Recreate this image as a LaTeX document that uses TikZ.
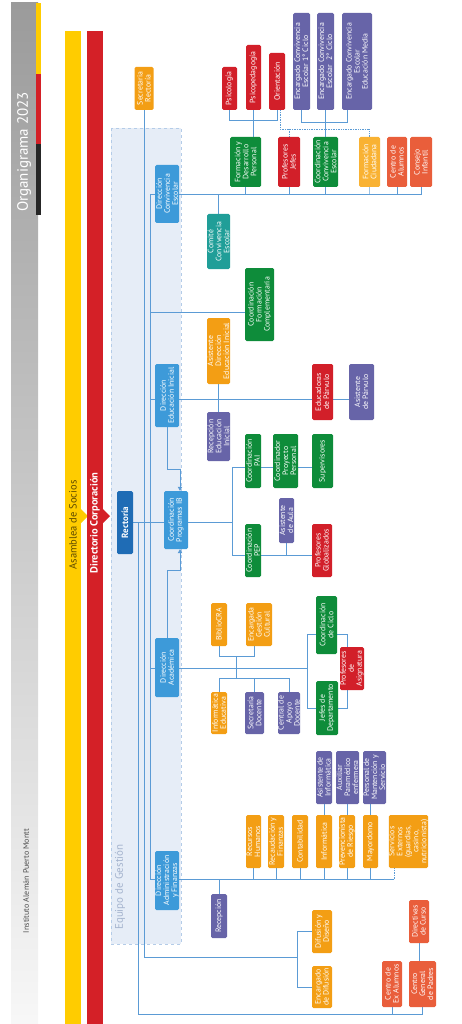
\documentclass[tikz,border=0pt]{standalone}
\usepackage{fontspec}
\setmainfont{PT Sans}
\usepackage{tikz}
\usetikzlibrary{arrows.meta,calc}
\definecolor{dirblue}{RGB}{61,154,217}
\definecolor{rectblue}{RGB}{31,108,181}
\definecolor{orgn}{RGB}{243,158,20}
\definecolor{rojo}{RGB}{210,31,41}
\definecolor{lila}{RGB}{103,100,168}
\definecolor{verde}{RGB}{14,140,58}
\definecolor{teal}{RGB}{32,158,152}
\definecolor{coral}{RGB}{233,94,59}
\definecolor{amber}{RGB}{249,178,51}
\definecolor{linkblue}{RGB}{91,155,213}
\definecolor{eqfill}{RGB}{230,237,247}
\definecolor{eqdraw}{RGB}{180,204,232}
\definecolor{eqtext}{RGB}{165,180,206}
\definecolor{asam}{RGB}{255,204,0}
\definecolor{direc}{RGB}{212,32,39}
\definecolor{hgray}{RGB}{155,155,155}
\pgfdeclarelayer{bg}
\pgfdeclarelayer{lines}
\pgfsetlayers{bg,lines,main}

\begin{document}
\begin{tikzpicture}[
  x=1pt, y=-1pt,
  font=\fontsize{7.8}{8}\selectfont,
  box/.style={rotate=90, rounded corners=1.5pt, align=center, inner sep=0pt, text=white},
  wh/.style 2 args={minimum height=#1pt, minimum width=#2pt},
  dirb/.style={box, fill=dirblue},
  orb/.style={box, fill=orgn},
  rob/.style={box, fill=rojo},
  lib/.style={box, fill=lila},
  veb/.style={box, fill=verde},
  teb/.style={box, fill=teal},
  cob/.style={box, fill=coral},
  amb/.style={box, fill=amber},
  conn/.style={draw=linkblue, line width=0.7pt},
  connl/.style={draw=linkblue!60, line width=1.6pt},
  dot/.style={conn, densely dotted},
  arr/.style={conn, -{Triangle[length=4pt,width=4.5pt]}},
  bartext/.style={rotate=90, font=\fontsize{10.5}{12}\selectfont},
]
\useasboundingbox (0,0) rectangle (461,1024);
% ---- header and governing bars ----
\begin{pgfonlayer}{bg}
\shade[top color=hgray, bottom color=white!97!black] (11,3) rectangle (38,1024);
\fill[asam] (36,3) rectangle (41,74);
\fill[direc] (36,74) rectangle (41,144);
\fill[black!85] (36,144) rectangle (41,215);
\fill[asam] (65,31) rectangle (81,1024);
\fill[asam] (81,509) -- (88,516) -- (81,523) -- cycle;
\fill[direc] (87,31) rectangle (103,1024);
\fill[direc] (103,509) -- (110,516) -- (103,523) -- cycle;
\draw[fill=eqfill, draw=eqdraw, dashed, line width=0.7pt] (111,128) rectangle (181,944);
\end{pgfonlayer}
\node[rotate=90, text=white, font=\fontsize{15}{17}\selectfont] (ttl) at (24,152) {Organigrama 2023};
\node[rotate=90, text=black!70, font=\fontsize{8}{9}\selectfont] (inst) at (26,881) {Instituto Alemán Puerto Montt};
\node[bartext, text=black!55!asam!80!black] (asl) at (73,525) {Asamblea de Socios};
\node[bartext, text=white, font=\fontsize{10.5}{12}\selectfont\bfseries] (dcl) at (95,523) {Directorio Corporación};
\node[rotate=90, text=eqtext, font=\fontsize{11}{12}\selectfont] (eql) at (120,887) {Equipo de Gestión};
% ---- rectoría and direcciones ----
\node[box, fill=rectblue, wh={16}{63}, font=\fontsize{9}{10}\selectfont\bfseries] (rect) at (125,522.5) {Rectoría};
\node[orb, wh={19}{43}] (secr) at (144,88.5) {Secretaria\\Rectoría};
\node[dirb, wh={24}{58}] (dce) at (167,194) {Dirección\\Convivencia\\Escolar};
\node[dirb, wh={24}{63}] (dei) at (167,395.5) {Dirección\\Educación Inicial};
\node[dirb, wh={24}{58}] (cib) at (176,520) {Coordinación\\Programas IB};
\node[dirb, wh={24}{59}] (dac) at (167,667.5) {Dirección\\Académica};
\node[dirb, wh={24}{59}] (daf) at (167,880.5) {Dirección\\Administración\\y Finanzas};
% ---- convivencia escolar ----
\node[teb, wh={23}{55}] (com) at (218.5,241.5) {Comité\\Convivencia\\Escolar};
\node[veb, wh={31}{50}] (fdp) at (245.5,162) {Formación y\\Desarrollo\\Personal};
\node[rob, wh={22}{50}] (pjef) at (289,162) {Profesores\\Jefes};
\node[veb, wh={25}{50}] (ccon) at (325.5,162) {Coordinación\\Convivencia\\Escolar};
\node[amb, wh={21}{50}] (fciu) at (369.5,162) {Formación\\Ciudadana};
\node[cob, wh={20}{50}] (calu) at (397,162) {Centro de\\Alumnos};
\node[cob, wh={22}{50}] (cinf) at (421,162) {Consejo\\Infantil};
\node[rob, wh={15}{43}] (psi) at (229.5,88.5) {Psicología};
\node[rob, wh={15}{65}] (psp) at (253.5,77.5) {Psicopedagogía};
\node[rob, wh={16}{57}] (ori) at (277,81.5) {Orientación};
\node[lib, wh={17}{97}] (ecc1) at (301.5,61.5) {Encargado Convivencia\\Escolar 1° Ciclo};
\node[lib, wh={17}{97}] (ecc2) at (325.5,61.5) {Encargado Convivencia\\Escolar\ \ 2° Ciclo};
\node[lib, wh={30}{97}] (eccm) at (357,61.5) {Encargado Convivencia\\Escolar\\Educación Media};
% ---- educación inicial ----
\node[veb, wh={29}{73}] (cfc) at (259.5,304.5) {Coordinación\\Formación\\Complementaria};
\node[orb, wh={23}{66}] (asdei) at (218.5,351) {Asistente\\Dirección\\Educación Inicial};
\node[lib, wh={23}{49}] (recei) at (218.5,436.5) {Recepción\\Educación\\Inicial};
\node[rob, wh={21}{56}] (edp) at (322.5,392) {Educadoras\\de Párvulo};
\node[lib, wh={25}{56}] (adp) at (361.5,392) {Asistente\\de Párvulo};
% ---- programas IB ----
\node[veb, wh={16}{54}] (pai) at (253,461) {Coordinación\\PAI};
\node[veb, wh={25}{54}] (cpp) at (285.5,461) {Coordinador\\Proyecto\\Personal};
\node[veb, wh={21}{54}] (sup) at (322.5,461) {Supervisores};
\node[veb, wh={16}{53}] (pep) at (253,550.5) {Coordinación\\PEP};
\node[lib, wh={15}{45}] (ada) at (286.5,520.5) {Asistente\\de Aula};
\node[rob, wh={20}{53}] (pglob) at (322,550.5) {Profesores\\Globalizados};
% ---- académica ----
\node[orb, wh={16}{43}] (biblio) at (219,624.5) {BiblioCRA};
\node[orb, wh={26}{43}] (egc) at (259,624.5) {Encargada\\Gestión\\Cultural};
\node[veb, wh={21}{58}] (ciclo) at (326.5,625) {Coordinación\\de Ciclo};
\node[rob, wh={24}{43}] (pasig) at (352,668.5) {Profesores\\de\\Asignatura};
\node[veb, wh={22}{54}] (jefes) at (327,708) {Jefes de\\Departamento};
\node[orb, wh={16}{42}] (infed) at (219,713) {Informática\\Educativa};
\node[lib, wh={19}{42}] (secdoc) at (254.5,713) {Secretaría\\Docente};
\node[lib, wh={22}{42}] (cad) at (289,713) {Central de\\Apoyo\\Docente};
% ---- administración y finanzas ----
\node[orb, wh={15}{53}] (rrhh) at (253.5,841.5) {Recursos\\Humanos};
\node[orb, wh={16}{53}] (recf) at (276,841.5) {Recaudación y\\Finanzas};
\node[orb, wh={16}{53}] (cont) at (300,841.5) {Contabilidad};
\node[orb, wh={16}{53}] (inf) at (324,841.5) {Informática};
\node[orb, wh={16}{53}] (prev) at (347,841.5) {Prevencionista\\de Riesgo};
\node[orb, wh={15}{53}] (mayor) at (370.5,841.5) {Mayordomo};
\node[orb, wh={39}{53}] (serv) at (408.5,841.5) {Servicios\\Externos\\(guardias,\\casino,\\nutricionista)};
\node[lib, wh={16}{53}] (asinf) at (324,777.5) {Asistente de\\Informática};
\node[lib, wh={23}{53}] (aux) at (347.5,777.5) {Auxiliar\\Paramédico\\enfermera};
\node[lib, wh={23}{53}] (pms) at (374.5,777.5) {Personal de\\Mantención y\\Servicio};
\node[lib, wh={16}{44}] (recep) at (219,916) {Recepción};
% ---- difusión y comunidad ----
\node[orb, wh={20}{43}] (difd) at (322,931.5) {Difusión y\\Diseño};
\node[orb, wh={20}{42}] (encd) at (322,987) {Encargado\\de Difusión};
\node[cob, wh={20}{46}] (cexa) at (392,984) {Centro de\\Ex Alumnos};
\node[cob, wh={27}{46}] (cgp) at (422.5,984) {Centro\\General\\de Padres};
\node[cob, wh={20}{43}] (dirc) at (419,921.5) {Directivas\\de Curso};
% ---- bus points ----
\coordinate (sA) at (138,522.5);
\coordinate (sAb) at (138,1014);
\coordinate (sB) at (150,194);
\coordinate (sBb) at (150,879);
\coordinate (servb) at (394,879);
\coordinate (ibM) at (232,522.5);
\coordinate (ibT) at (232,467);
\coordinate (ibB) at (232,555);
\coordinate (difb) at (297,957);
\coordinate (cfL) at (150,312);
\coordinate (deiL) at (150,399);
\coordinate (acL) at (150,668);
\coordinate (acR) at (307,668);
\coordinate (acU) at (236,656);
\coordinate (acD) at (236,678);
\coordinate (dotL) at (280,129);
% ---- connectors ----
\begin{pgfonlayer}{lines}
\draw[conn] (secr.west) -- (secr.west |- difb) -- (difb);
\draw[conn] (rect.south) -- (ibM);
\draw[conn] (sA) -- (sAb) -| (cgp.west);
\draw[conn] (sB) -- (sBb);
% convivencia
\draw[conn] (sB) -| (cinf.west);
\foreach \n in {fdp,pjef,ccon,calu}
  \draw[conn] (\n.west) -- (\n.west |- sB);
\draw[connl] (fciu.west) -- (fciu.west |- sB);
\draw[conn] (com.east) -- (com.east |- sB);
\draw[conn] (psi.west) -- ++(0,10) -| (ori.west);
\draw[conn] (psp.west) -- (psp.west |- fdp.east);
\draw[conn] (ecc1.west) -- ++(0,12) -| ([xshift=-10pt]eccm.west);
\draw[conn] (ecc2.west) -- (ccon.east);
\draw[dot] (dotL |- ori.west) -- (dotL) -| (fciu.east);
\draw[dot] (dotL -| pjef.east) -- (pjef.east);
% formación complementaria, educación inicial
\draw[conn] (cfL) -- (cfc.north |- cfL);
\draw[conn] (deiL) -- (edp.north |- deiL);
\draw[conn] (edp.south |- deiL) -- (adp.north |- deiL);
\draw[conn] (asdei.west) -- (recei.east);
\draw[arr] (dei.west) -- ++(0,42) -| ([xshift=4pt]cib.east);
% programas IB
\draw[conn] (ibT) -- (ibB);
\draw[conn] (ibT) -- (sup.north |- ibT);
\draw[conn] (ibB) -- (pglob.north |- ibB);
\draw[conn] (ada.west) -- (ada.west |- ibB);
% académica
\draw[arr] (dac.east) -- ++(0,-67) -| ([xshift=4pt]cib.west);
\draw[conn] (acL) -- (acR);
\draw[conn] ([yshift=-9pt]ciclo.north) -| (acR);
\draw[conn] (jefes.north) -| (acR);
\draw[conn] ([yshift=-9pt]ciclo.south) -| ([xshift=-5pt]pasig.east);
\draw[conn] (jefes.south) -| ([xshift=-5pt]pasig.west);
\draw[conn] (acU) -- (acD);
\draw[conn] (biblio.west) |- (acU);
\draw[conn] ([xshift=-5pt]egc.west) |- (acU);
\draw[conn] (infed.east) |- (acD);
\draw[conn] (cad.east) |- (acD);
\draw[conn] (secdoc.east) -- (secdoc.east |- acD);
% administración
\draw[conn] (sBb) -- (servb);
\draw[dot] (servb) -- (servb |- serv.west);
\foreach \n in {rrhh,recf,cont,inf,prev,mayor}
  \draw[conn] (\n.west) -- (\n.west |- sBb);
\draw[conn] (recep.east) -- (recep.east |- sBb);
\draw[conn] (inf.east) -- (asinf.west);
\draw[conn] (prev.east) -- (prev.east |- aux.west);
\draw[conn] (mayor.east) -- (mayor.east |- pms.west);
% difusión, padres
\draw[conn] (difd.north) -| (difb);
\draw[conn] (encd.north) -| (difb);
\draw[conn] (cexa.west) -- (cexa.west |- sAb);
\draw[conn] (dirc.west) -- (dirc.west |- cgp.east);
\end{pgfonlayer}
\end{tikzpicture}
\end{document}
